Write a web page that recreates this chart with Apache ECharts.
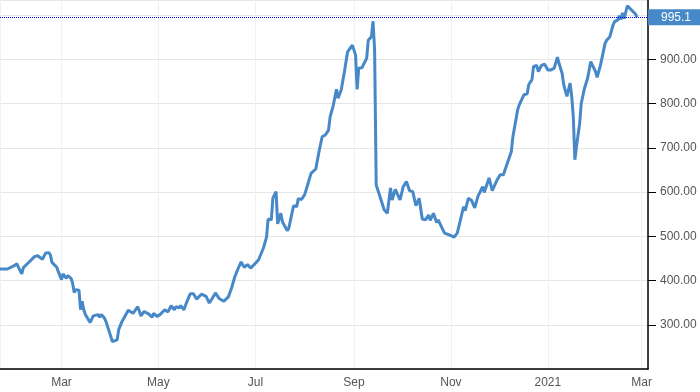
<!DOCTYPE html>
<html>
<head>
<meta charset="utf-8">
<script src="https://cdn.jsdelivr.net/npm/echarts@6/dist/echarts.min.js"></script>
<style>
html,body{margin:0;padding:0;background:#fff;}
#chart{width:700px;height:392px;}
</style>
</head>
<body>
<div id="chart"></div>
<script>
const dates = [
'2020-01-22','2020-01-27','2020-01-28','2020-01-31','2020-02-02','2020-02-03','2020-02-05','2020-02-06','2020-02-10','2020-02-13',
'2020-02-15','2020-02-18','2020-02-20','2020-02-22','2020-02-23','2020-02-24','2020-02-27','2020-02-28','2020-03-01','2020-03-02',
'2020-03-04','2020-03-05','2020-03-07','2020-03-08','2020-03-09','2020-03-10','2020-03-12','2020-03-13','2020-03-14','2020-03-15',
'2020-03-16','2020-03-19','2020-03-21','2020-03-24','2020-03-25','2020-03-26','2020-03-28','2020-03-29','2020-03-31','2020-04-02',
'2020-04-05','2020-04-06','2020-04-08','2020-04-09','2020-04-12','2020-04-15','2020-04-18','2020-04-20','2020-04-22','2020-04-25',
'2020-04-27','2020-04-28','2020-04-30','2020-05-02','2020-05-05','2020-05-07','2020-05-09','2020-05-11','2020-05-12','2020-05-14',
'2020-05-15','2020-05-17','2020-05-19','2020-05-21','2020-05-23','2020-05-25','2020-05-28','2020-05-31','2020-06-02','2020-06-06',
'2020-06-08','2020-06-09','2020-06-11','2020-06-14','2020-06-16','2020-06-18','2020-06-20','2020-06-22','2020-06-24','2020-06-26',
'2020-06-28','2020-07-01','2020-07-03','2020-07-06','2020-07-08','2020-07-09','2020-07-11','2020-07-12','2020-07-14','2020-07-15',
'2020-07-17','2020-07-18','2020-07-21','2020-07-22','2020-07-25','2020-07-27','2020-07-28','2020-07-30','2020-08-01','2020-08-03',
'2020-08-05','2020-08-08','2020-08-10','2020-08-12','2020-08-14','2020-08-16','2020-08-17','2020-08-19','2020-08-21','2020-08-22',
'2020-08-24','2020-08-26','2020-08-28','2020-08-31','2020-09-01','2020-09-02','2020-09-03','2020-09-04','2020-09-06','2020-09-07',
'2020-09-09','2020-09-10','2020-09-12','2020-09-13','2020-09-14','2020-09-15','2020-09-17','2020-09-20','2020-09-22','2020-09-24',
'2020-09-25','2020-09-27','2020-09-30','2020-10-02','2020-10-04','2020-10-06','2020-10-08','2020-10-10','2020-10-12','2020-10-14',
'2020-10-16','2020-10-18','2020-10-19','2020-10-21','2020-10-23','2020-10-24','2020-10-26','2020-10-28','2020-10-31','2020-11-03',
'2020-11-05','2020-11-07','2020-11-09','2020-11-10','2020-11-12','2020-11-14','2020-11-16','2020-11-18','2020-11-20','2020-11-21',
'2020-11-22','2020-11-25','2020-11-27','2020-11-30','2020-12-02','2020-12-04','2020-12-06','2020-12-09','2020-12-10','2020-12-13',
'2020-12-14','2020-12-17','2020-12-19','2020-12-20','2020-12-22','2020-12-23','2020-12-25','2020-12-26','2020-12-28','2020-12-30',
'2021-01-01','2021-01-03','2021-01-05','2021-01-07','2021-01-08','2021-01-10','2021-01-11','2021-01-13','2021-01-14','2021-01-15',
'2021-01-16','2021-01-17','2021-01-18','2021-01-19','2021-01-21','2021-01-22','2021-01-24','2021-01-26','2021-01-28','2021-01-29',
'2021-01-31','2021-02-01','2021-02-03','2021-02-04','2021-02-06','2021-02-07','2021-02-09','2021-02-11','2021-02-12','2021-02-14',
'2021-02-15','2021-02-16','2021-02-17','2021-02-18','2021-02-20','2021-02-21','2021-02-23','2021-02-25','2021-02-26'
];
const values = [
426,426,423,433,438,429,415,429,443,454,
456,448,462,463,458,441,430,420,402,415,
405,411,405,394,373,379,378,334,353,334,
323,305,320,323,317,323,315,307,285,262,
266,289,307,305,333,326,341,320,330,324,
317,326,319,323,334,329,343,334,341,338,
343,334,353,370,370,358,369,364,349,372,
360,364,353,363,383,408,426,442,430,436,
428,439,447,473,498,539,537,586,601,528,
552,533,513,518,569,567,585,583,594,618,
642,652,691,725,729,740,770,796,832,812,
831,872,917,932,930,910,832,880,881,878,
902,943,951,986,921,616,594,560,552,609,
582,606,582,612,624,603,601,569,586,539,
537,548,536,552,531,537,522,507,503,498,
507,537,567,558,586,581,564,590,605,612,
599,632,603,627,639,639,660,691,725,786,
797,820,822,843,854,884,886,872,886,889,
876,876,880,905,891,868,842,816,812,846,
816,770,673,703,755,800,834,857,895,887,
872,859,885,887,936,943,951,977,985,989,
998,990,1005,992,1021,1017,1010,1003,995.1
];
const monthLabels = ['Jan','Feb','Mar','Apr','May','Jun','Jul','Aug','Sep','Oct','Nov','Dec'];
const yTickStep = 100;
const lastValue = values[values.length - 1];

const lineColor = '#4688c8';
const chart = echarts.init(document.getElementById('chart'), null, {renderer: 'canvas'});
const seriesData = dates.map((d, i) => [d, values[i]]);

chart.setOption({
  animation: false,
  backgroundColor: '#ffffff',
  textStyle: {fontFamily: 'Liberation Sans, Arial, sans-serif'},
  grid: {left: 0, right: 52, top: 0, bottom: 23, containLabel: false},
  xAxis: {
    type: 'time',
    min: '2020-01-22 07:26:00',
    max: '2021-03-05 00:00:00',
    splitNumber: 6,
    axisLine: {show: true, lineStyle: {color: '#000', width: 1.5}},
    axisTick: {show: false},
    axisLabel: {
      color: '#555',
      fontSize: 12,
      margin: 8,
      hideOverlap: false,
      formatter: function (val) {
        const d = new Date(val);
        return d.getMonth() === 0 ? String(d.getFullYear()) : monthLabels[d.getMonth()];
      }
    },
    splitLine: {show: true, lineStyle: {color: '#edf1f3', width: 1}}
  },
  yAxis: {
    type: 'value',
    position: 'right',
    min: 200,
    max: 1034,
    interval: yTickStep,
    axisLine: {show: true, lineStyle: {color: '#000', width: 1.5}},
    axisTick: {show: true, inside: false, length: 8, lineStyle: {color: '#000', width: 1}},
    axisLabel: {
      color: '#555',
      fontSize: 12,
      margin: 12,
      showMinLabel: false,
      showMaxLabel: false,
      formatter: function (v) { return (v <= 200 || v >= 1000) ? '' : v.toFixed(2); }
    },
    splitLine: {show: true, lineStyle: {color: '#e6e6e6', width: 1}}
  },
  series: [{
    type: 'line',
    data: seriesData,
    showSymbol: false,
    symbol: 'none',
    lineStyle: {color: lineColor, width: 3},
    markLine: {
      silent: true,
      symbol: ['none', 'none'],
      lineStyle: {color: '#0000ff', type: [1, 1], width: 1},
      label: {
        show: true,
        position: 'end',
        distance: 0,
        formatter: String(lastValue),
        color: '#fff',
        fontSize: 12,
        backgroundColor: lineColor,
        padding: [2, 10, 2, 13]
      },
      data: [{yAxis: lastValue}]
    }
  }]
});
</script>
</body>
</html>
